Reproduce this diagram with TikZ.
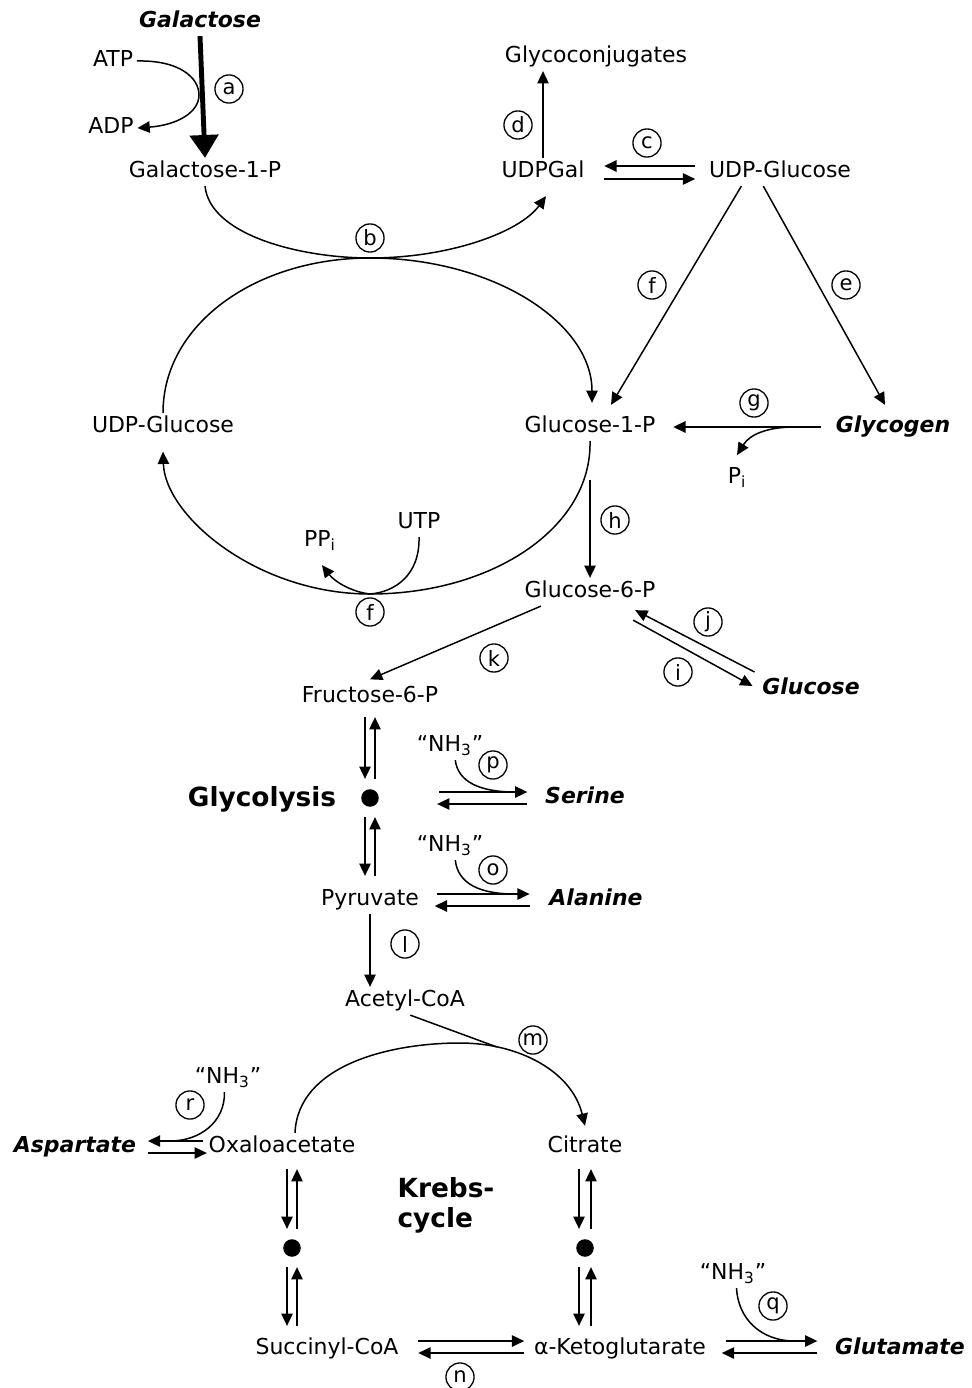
\documentclass[tikz,border=0pt]{standalone}
\usepackage{fontspec}
\setmainfont{DejaVu Sans}
\usetikzlibrary{arrows.meta}

\tikzset{
  metab/.style={inner sep=2pt, text height=9pt, text depth=2.7pt, font=\fontsize{12.5}{15}\selectfont},
  subst/.style={metab, font=\fontsize{12.5}{15}\selectfont\bfseries\itshape},
  pathname/.style={inner sep=2pt, align=left, font=\fontsize{15}{17}\selectfont\bfseries},
  enz/.style={circle, draw, line width=0.75pt, minimum size=16pt, inner sep=0pt, font=\fontsize{12}{13}\selectfont},
  hub/.style={circle, fill, minimum size=10pt, inner sep=0pt},
  arr/.style={line width=0.85pt, -{Triangle[length=7pt, width=6.5pt]}},
  ln/.style={line width=0.85pt},
  bigarr/.style={line width=2.8pt, -{Triangle[length=13pt, width=16pt]}}
}

\begin{document}
\begin{tikzpicture}[x=0.02cm, y=-0.02cm]
  \useasboundingbox (0, 0) rectangle (971, 1388);
  % Nodes
  \node (gal) [subst] at (200, 22) {Galactose};
  \node (atp) [metab] at (113, 61) {ATP};
  \node (adp) [metab] at (111, 128) {ADP};
  \node (gal1p) [metab] at (205, 172) {Galactose-1-P};
  \node (glycoconj) [metab] at (596, 57) {Glycoconjugates};
  \node (udpgal) [metab] at (543, 172) {UDPGal};
  \node (udpglc) [metab] at (780, 172) {UDP-Glucose};
  \node (udpglc-l) [metab] at (163, 427) {UDP-Glucose};
  \node (glc1p) [metab] at (590, 427) {Glucose-1-P};
  \node (glycogen) [subst] at (893, 427) {Glycogen};
  \node (pi) [metab] at (737, 478) {P\textsubscript{i}};
  \node (utp) [metab] at (419, 523) {UTP};
  \node (ppi) [metab] at (320, 541) {PP\textsubscript{i}};
  \node (glc6p) [metab] at (590, 592) {Glucose-6-P};
  \node (glc) [subst] at (811, 689) {Glucose};
  \node (fru6p) [metab] at (370, 697) {Fructose-6-P};
  \node (glyhub) [hub] at (370, 798) {};
  \node (glycolysis) [pathname] at (262, 799) {Glycolysis};
  \node (nh3-p) [metab] at (450, 746) {``NH\textsubscript{3}''};
  \node (serine) [subst] at (585, 798) {Serine};
  \node (pyr) [metab] at (370, 900) {Pyruvate};
  \node (nh3-o) [metab] at (450, 846) {``NH\textsubscript{3}''};
  \node (alanine) [subst] at (596, 900) {Alanine};
  \node (acetyl) [metab] at (405, 1001) {Acetyl-CoA};
  \node (nh3-r) [metab] at (228, 1078) {``NH\textsubscript{3}''};
  \node (asp) [subst] at (75, 1147) {Aspartate};
  \node (oaa) [metab] at (282, 1147) {Oxaloacetate};
  \node (citrate) [metab] at (585, 1147) {Citrate};
  \node (krebs) [pathname] at (446, 1205) {Krebs-\\cycle};
  \node (hub-l) [hub] at (292, 1248) {};
  \node (hub-r) [hub] at (585, 1248) {};
  \node (nh3-q) [metab] at (733, 1274) {``NH\textsubscript{3}''};
  \node (succ) [metab] at (327, 1349) {Succinyl-CoA};
  \node (akg) [metab] at (620, 1349) {α-Ketoglutarate};
  \node (glu) [subst] at (900, 1349) {Glutamate};
  % Enzymes
  \node (e-a) [enz] at (229, 89) {a};
  \node (e-b) [enz] at (370, 238) {b};
  \node (e-c) [enz] at (647, 143) {c};
  \node (e-d) [enz] at (518, 125) {d};
  \node (e-e) [enz] at (846, 285) {e};
  \node (e-f) [enz] at (652, 285) {f};
  \node (e-f2) [enz] at (370, 612) {f};
  \node (e-g) [enz] at (754, 403) {g};
  \node (e-h) [enz] at (615, 520) {h};
  \node (e-i) [enz] at (678, 672) {i};
  \node (e-j) [enz] at (708, 622) {j};
  \node (e-k) [enz] at (494, 658) {k};
  \node (e-l) [enz] at (405, 944) {l};
  \node (e-m) [enz] at (533, 1040) {m};
  \node (e-n) [enz] at (460, 1377) {n};
  \node (e-o) [enz] at (493, 870) {o};
  \node (e-p) [enz] at (493, 765) {p};
  \node (e-q) [enz] at (773, 1306) {q};
  \node (e-r) [enz] at (190, 1105) {r};
  % Junctions
  \coordinate (a-mid) at (199, 95);
  \coordinate (b-top) at (370, 258);
  \coordinate (f-bot) at (370, 594);
  \coordinate (g-split) at (795, 427);
  \coordinate (p-join) at (515, 792);
  \coordinate (o-join) at (515, 894);
  \coordinate (m-top) at (460, 1043);
  \coordinate (m-join) at (497, 1047);
  \coordinate (r-join) at (170, 1141);
  \coordinate (q-join) at (795, 1341);
  % Arrows
  \draw[bigarr] (gal.south) -- (gal1p.north);
  \draw[arr] (atp.east) .. controls (180, 60) and (199, 78) .. (a-mid) .. controls (199, 112) and (178, 125) .. (adp.east);
  \draw[arr] (gal1p.south) .. controls (210, 235) and (300, 258) .. (b-top) .. controls (450, 258) and (520, 232) .. ([shift={(3, 10)}]udpgal.south);
  \draw[arr] (udpglc-l.north) .. controls (163, 324) and (256, 258) .. (b-top) .. controls (492, 258) and (592, 322) .. ([shift={(2, -10)}]glc1p.north);
  \draw[arr] (udpgal.north) -- (udpgal.north |- glycoconj.south);
  \draw[arr] ([shift={(-10, -6)}]udpglc.west) -- ([shift={(16, -6)}]udpgal.east);
  \draw[arr] ([shift={(16, 7)}]udpgal.east) -- ([shift={(-10, 7)}]udpglc.west);
  \draw[arr] ([xshift=-22pt]udpglc.south) -- ([shift={(21, -8)}]glc1p.north);
  \draw[arr] ([xshift=-9.5pt]udpglc.south) -- ([shift={(-8, -8)}]glycogen.north);
  \draw[arr] ([xshift=-6pt]glycogen.west) -- ([xshift=8pt]glc1p.east);
  \draw[arr] (g-split) .. controls (768, 427) and (750, 434) .. ([yshift=5pt]pi.north);
  \draw[arr] (glc1p.south) .. controls (592, 528) and (492, 594) .. (f-bot) .. controls (257, 594) and (165, 516) .. ([yshift=-6pt]udpglc-l.south);
  \draw[arr] (utp.south) .. controls (420, 575) and (395, 592) .. (f-bot) .. controls (352, 592) and (335, 582) .. ([shift={(2, 10)}]ppi.south);
  \draw[arr] ([yshift=-22pt]glc1p.south) -- (glc6p.north);
  \draw[arr] ([shift={(-4, -17)}]glc.west) -- ([shift={(-24, 4)}]glc6p.south east);
  \draw[arr] ([shift={(-26, 14)}]glc6p.south east) -- ([shift={(-6, -3)}]glc.west);
  \draw[arr] ([xshift=-28pt]glc6p.south) -- ([yshift=2pt]fru6p.north);
  \draw[arr] ([shift={(-5, 6)}]fru6p.south) -- ([shift={(-5, -10)}]glyhub.north);
  \draw[arr] ([shift={(5, -10)}]glyhub.north) -- ([shift={(5, 6)}]fru6p.south);
  \draw[arr] ([shift={(-5, 10)}]glyhub.south) -- ([shift={(-5, -10)}]pyr.north);
  \draw[arr] ([shift={(5, -10)}]pyr.north) -- ([shift={(5, 10)}]glyhub.south);
  \draw[arr] ([shift={(60, -6)}]glyhub.east) -- ([shift={(-14, -6)}]serine.west);
  \draw[arr] ([shift={(-14, 6)}]serine.west) -- ([shift={(58, 6)}]glyhub.east);
  \draw[ln] ([xshift=3pt]nh3-p.south) .. controls (458, 782) and (480, 792) .. (p-join);
  \draw[arr] ([shift={(14, -6)}]pyr.east) -- ([shift={(-16, -6)}]alanine.west);
  \draw[arr] ([shift={(-16, 6)}]alanine.west) -- ([shift={(12, 6)}]pyr.east);
  \draw[ln] ([xshift=3pt]nh3-o.south) .. controls (458, 884) and (480, 894) .. (o-join);
  \draw[arr] (pyr.south) -- (pyr.south |- acetyl.north);
  \draw[ln] ([xshift=3pt]acetyl.south) -- (m-join);
  \draw[arr] ([shift={(13, 0)}]oaa.north) .. controls (298, 1065) and (390, 1043) .. (m-top) .. controls (520, 1043) and (572, 1072) .. ([yshift=4pt]citrate.north);
  \draw[arr] ([shift={(-2, -6)}]oaa.west) -- ([shift={(8, -6)}]asp.east);
  \draw[arr] ([shift={(8, 6)}]asp.east) -- ([shift={(2, 6)}]oaa.west);
  \draw[ln] ([xshift=-2pt]nh3-r.south) .. controls (225, 1122) and (200, 1141) .. (r-join);
  \draw[arr] ([shift={(5, 8)}]oaa.south) -- ([shift={(-5, -10)}]hub-l.north);
  \draw[arr] ([shift={(5, -10)}]hub-l.north) -- ([shift={(15, 8)}]oaa.south);
  \draw[arr] ([shift={(-5, 10)}]hub-l.south) -- ([shift={(-40, -9)}]succ.north);
  \draw[arr] ([shift={(-30, -9)}]succ.north) -- ([shift={(5, 10)}]hub-l.south);
  \draw[arr] ([shift={(-6, 8)}]citrate.south) -- ([shift={(-6, -10)}]hub-r.north);
  \draw[arr] ([shift={(6, -10)}]hub-r.north) -- ([shift={(6, 8)}]citrate.south);
  \draw[arr] ([shift={(-6, 10)}]hub-r.south) -- ([shift={(-41, -9)}]akg.north);
  \draw[arr] ([shift={(-29, -9)}]akg.north) -- ([shift={(6, 10)}]hub-r.south);
  \draw[arr] ([shift={(16, -8)}]succ.east) -- ([shift={(-6, -8)}]akg.west);
  \draw[arr] ([shift={(-6, 4)}]akg.west) -- ([shift={(16, 4)}]succ.east);
  \draw[arr] ([shift={(16, -8)}]akg.east) -- ([shift={(-14, -8)}]glu.west);
  \draw[arr] ([shift={(-14, 4)}]glu.west) -- ([shift={(12, 4)}]akg.east);
  \draw[ln] ([xshift=2pt]nh3-q.south) .. controls (738, 1318) and (760, 1341) .. (q-join);
\end{tikzpicture}
\end{document}
